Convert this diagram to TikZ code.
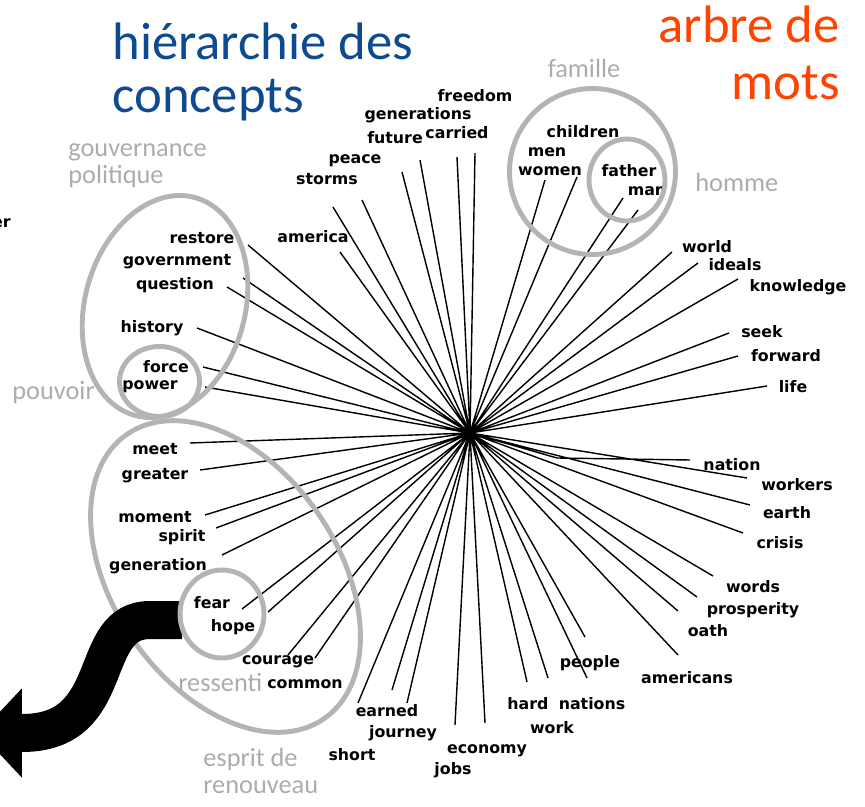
\documentclass[tikz,border=0pt]{standalone}
\usepackage{fontspec}
\setmainfont{Carlito}
\newfontfamily\wordfont{DejaVu Sans}
\usetikzlibrary{arrows.meta}

\definecolor{titleblue}{RGB}{14,74,143}
\definecolor{titleorange}{RGB}{255,68,0}
\definecolor{groupgray}{RGB}{172,172,172}
\definecolor{ringgray}{RGB}{180,180,180}

\tikzset{
  word/.style={font=\wordfont\bfseries\fontsize{9}{10}\selectfont, inner sep=0pt},
  ray/.style={line width=0.8pt},
  ring/.style={draw=ringgray, line width=2.8pt},
  group/.style={font=\fontsize{15}{15.5}\selectfont, text=groupgray, inner sep=0pt, align=left},
  title/.style={font=\fontsize{30}{30}\selectfont, inner sep=0pt},
}

\begin{document}
\begin{tikzpicture}[x=0.02cm, y=-0.02cm]
  \useasboundingbox (0,0) rectangle (865,807);
  \clip (0,0) rectangle (865,807);

  % titles
  \node[title, text=titleblue, anchor=base west] (hier) at (112,60) {hiérarchie des};
  \node[title, text=titleblue, anchor=base west] (conc) at (112,113) {concepts};
  \node[title, text=titleorange, anchor=base east] (arbre) at (840,43) {arbre de};
  \node[title, text=titleorange, anchor=base east] (mots) at (840,100) {mots};

  % centre of the tree and ends of the branches
  \coordinate (hub) at (470,433);
  \coordinate (t-freedom) at (475,153);
  \coordinate (t-carried) at (457,157);
  \coordinate (t-future) at (420,160);
  \coordinate (t-generations) at (402,172);
  \coordinate (t-peace) at (362,200);
  \coordinate (t-storms) at (333,207);
  \coordinate (t-america) at (340,252);
  \coordinate (t-restore) at (248,245);
  \coordinate (t-government) at (243,278);
  \coordinate (t-question) at (227,287);
  \coordinate (t-history) at (197,328);
  \coordinate (t-force) at (203,367);
  \coordinate (t-power) at (205,387);
  \coordinate (t-meet) at (190,443);
  \coordinate (t-greater) at (200,470);
  \coordinate (t-moment) at (205,515);
  \coordinate (t-spirit) at (216,528);
  \coordinate (t-generation) at (222,555);
  \coordinate (t-fear) at (242,609);
  \coordinate (t-hope) at (268,612);
  \coordinate (t-courage) at (288,655);
  \coordinate (t-common) at (315,658);
  \coordinate (t-earned) at (358,703);
  \coordinate (t-journey) at (392,690);
  \coordinate (t-short) at (407,703);
  \coordinate (t-jobs) at (455,725);
  \coordinate (t-economy) at (485,723);
  \coordinate (t-hard) at (527,682);
  \coordinate (t-work) at (548,678);
  \coordinate (t-nations) at (587,678);
  \coordinate (t-people) at (585,637);
  \coordinate (t-americans) at (678,655);
  \coordinate (t-oath) at (678,611);
  \coordinate (t-prosperity) at (697,597);
  \coordinate (t-words) at (713,576);
  \coordinate (t-crisis) at (743,533);
  \coordinate (t-earth) at (750,505);
  \coordinate (t-workers) at (747,478);
  \coordinate (t-bend) at (557,458);
  \coordinate (t-nation) at (690,460);
  \coordinate (t-life) at (767,386);
  \coordinate (t-forward) at (738,356);
  \coordinate (t-seek) at (729,333);
  \coordinate (t-knowledge) at (738,279);
  \coordinate (t-ideals) at (698,263);
  \coordinate (t-world) at (672,252);
  \coordinate (t-man) at (638,210);
  \coordinate (t-father) at (623,198);
  \coordinate (t-women) at (577,177);
  \coordinate (t-men) at (545,180);

  % branches
  \draw[ray] (hub) -- (t-freedom) (hub) -- (t-carried) (hub) -- (t-future)
    (hub) -- (t-generations) (hub) -- (t-peace) (hub) -- (t-storms)
    (hub) -- (t-america) (hub) -- (t-restore) (hub) -- (t-government)
    (hub) -- (t-question) (hub) -- (t-history) (hub) -- (t-force)
    (hub) -- (t-power) (hub) -- (t-meet) (hub) -- (t-greater)
    (hub) -- (t-moment) (hub) -- (t-spirit) (hub) -- (t-generation)
    (hub) -- (t-fear) (hub) -- (t-hope) (hub) -- (t-courage)
    (hub) -- (t-common) (hub) -- (t-earned) (hub) -- (t-journey)
    (hub) -- (t-short) (hub) -- (t-jobs) (hub) -- (t-economy)
    (hub) -- (t-hard) (hub) -- (t-work) (hub) -- (t-nations)
    (hub) -- (t-people) (hub) -- (t-americans) (hub) -- (t-oath)
    (hub) -- (t-prosperity) (hub) -- (t-words) (hub) -- (t-crisis)
    (hub) -- (t-earth) (hub) -- (t-workers) (hub) -- (t-bend) -- (t-nation)
    (hub) -- (t-life) (hub) -- (t-forward) (hub) -- (t-seek)
    (hub) -- (t-knowledge) (hub) -- (t-ideals) (hub) -- (t-world)
    (hub) -- (t-man) (hub) -- (t-father) (hub) -- (t-women) (hub) -- (t-men);

  % words
  \node[word] (freedom) at (475,96) {freedom};
  \node[word] (generations) at (418,115) {generations};
  \node[word] (future) at (395,138) {future};
  \node[word] (carried) at (457,133) {carried};
  \node[word] (peace) at (355,161) {peace};
  \node[word] (storms) at (327,179) {storms};
  \node[word] (america) at (313,237) {america};
  \node[word] (restore) at (202,238) {restore};
  \node[word] (government) at (177,262) {government};
  \node[word] (question) at (175,285) {question};
  \node[word] (history) at (152,328) {history};
  \node[word] (force) at (166,367) {force};
  \node[word] (power) at (150,387) {power};
  \node[word, anchor=east] (cut) at (11,223) {er};
  \node[word] (meet) at (155,449) {meet};
  \node[word] (greater) at (155,476) {greater};
  \node[word] (moment) at (155,517) {moment};
  \node[word] (spirit) at (182,537) {spirit};
  \node[word] (generation) at (158,566) {generation};
  \node[word] (fear) at (212,603) {fear};
  \node[word] (hope) at (233,627) {hope};
  \node[word] (courage) at (278,662) {courage};
  \node[word] (common) at (305,684) {common};
  \node[word] (earned) at (387,711) {earned};
  \node[word] (journey) at (403,733) {journey};
  \node[word] (short) at (352,755) {short};
  \node[word] (economy) at (487,751) {economy};
  \node[word] (jobs) at (453,770) {jobs};
  \node[word] (hard) at (528,704) {hard};
  \node[word] (nations) at (592,704) {nations};
  \node[word] (work) at (552,728) {work};
  \node[word] (people) at (590,663) {people};
  \node[word] (americans) at (687,678) {americans};
  \node[word] (oath) at (708,631) {oath};
  \node[word] (prosperity) at (753,610) {prosperity};
  \node[word] (words) at (753,587) {words};
  \node[word] (crisis) at (780,543) {crisis};
  \node[word] (earth) at (787,513) {earth};
  \node[word] (workers) at (797,485) {workers};
  \node[word] (nation) at (732,465) {nation};
  \node[word] (life) at (793,387) {life};
  \node[word] (forward) at (786,356) {forward};
  \node[word] (seek) at (762,332) {seek};
  \node[word] (knowledge) at (798,287) {knowledge};
  \node[word] (ideals) at (735,265) {ideals};
  \node[word] (world) at (707,247) {world};
  \node[word] (children) at (583,132) {children};
  \node[word] (men) at (547,152) {men};
  \node[word] (women) at (550,171) {women};
  \node[word] (father) at (629,171) {father};
  \node[word] (man) at (647,191) {man};

  % groups
  \draw[ring, rotate around={-15.5:(165,306.5)}] (165,306.5) ellipse [x radius=80, y radius=113];
  \draw[ring] (159.5,381.5) ellipse [x radius=40, y radius=35];
  \draw[ring, rotate around={34.8:(225.5,576.5)}] (225.5,576.5) ellipse [x radius=112, y radius=173];
  \coordinate (s-start) at (182,620);
  \coordinate (s-base) at (22,733);
  \coordinate (s-tip) at (-20,733);
  \draw[line width=0.76cm, -{Triangle[length=0.84cm, width=1.74cm]}]
    (s-start) -- (150,620) .. controls (85,620) and (120,733) .. (s-base) -- (s-tip);
  \draw[ring] (222,614) ellipse [x radius=42, y radius=44];
  \draw[ring] (592.5,171.5) circle [radius=83];
  \draw[ring] (627,180) ellipse [x radius=38, y radius=41];

  \node[group, anchor=west] (gouv) at (68,166) {gouvernance\\politique};
  \node[group, anchor=west] (pouvoir) at (12,393) {pouvoir};
  \node[group] (famille) at (584,68) {famille};
  \node[group, anchor=west] (homme) at (695,182) {homme};
  \node[group, anchor=west] (ressenti) at (178,682) {ressenti};
  \node[group, anchor=west] (esprit) at (203,771) {esprit de\\renouveau};
\end{tikzpicture}
\end{document}
